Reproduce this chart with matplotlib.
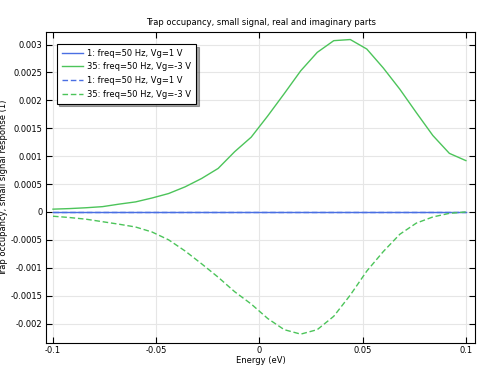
import numpy as np
import matplotlib
matplotlib.use("Agg")
import matplotlib.pyplot as plt
from matplotlib.ticker import FuncFormatter

# energy grid (eV), 26 points
energy = [-0.1, -0.092, -0.084, -0.076, -0.068, -0.06, -0.052, -0.044, -0.036,
          -0.028, -0.02, -0.012, -0.004, 0.004, 0.012, 0.02, 0.028, 0.036,
          0.044, 0.052, 0.06, 0.068, 0.076, 0.084, 0.092, 0.1]

# Vg=1 V: real and imaginary parts stay at zero
real_1 = [0.0] * len(energy)
imag_1 = [0.0] * len(energy)

# Vg=-3 V, values in units of 1e-3
real_35 = [0.05, 0.06, 0.075, 0.095, 0.14, 0.18, 0.25, 0.33, 0.45,
           0.6, 0.78, 1.08, 1.34, 1.72, 2.12, 2.53, 2.86, 3.07,
           3.09, 2.92, 2.58, 2.2, 1.78, 1.37, 1.05, 0.92]
imag_35 = [-0.077, -0.1, -0.13, -0.175, -0.22, -0.27, -0.36, -0.5, -0.7,
           -0.93, -1.17, -1.43, -1.65, -1.91, -2.11, -2.19, -2.11, -1.87,
           -1.49, -1.06, -0.71, -0.4, -0.2, -0.09, -0.025, 0.0]

labels = ["1: freq=50 Hz, Vg=1 V", "35: freq=50 Hz, Vg=-3 V",
          "1: freq=50 Hz, Vg=1 V", "35: freq=50 Hz, Vg=-3 V"]

blue = "#4a6fe3"
green = "#4cc45a"
fs = 6

x = np.array(energy)
fig = plt.figure(figsize=(4.79, 3.66), dpi=100)
ax = fig.add_axes([0.096, 0.063, 0.896, 0.85])

ax.plot(x, np.array(real_1), color=blue, lw=1.0, label=labels[0])
ax.plot(x, np.array(real_35) * 1e-3, color=green, lw=1.0, label=labels[1])
ax.plot(x, np.array(imag_1), color=blue, lw=1.0, ls=(0, (4, 2)), label=labels[2])
ax.plot(x, np.array(imag_35) * 1e-3, color=green, lw=1.0, ls=(0, (4, 2)), label=labels[3])

ax.set_xlim(-0.1034, 0.1045)
ax.set_ylim(-0.002348, 0.003228)
ax.set_xticks([-0.1, -0.05, 0, 0.05, 0.1])
ax.set_yticks(np.arange(-0.002, 0.00301, 0.0005))
fmt = FuncFormatter(lambda v, p: "0" if abs(v) < 1e-12 else "%g" % v)
ax.xaxis.set_major_formatter(fmt)
ax.yaxis.set_major_formatter(fmt)
ax.tick_params(direction="in", top=True, right=True, labelsize=fs, length=4, pad=2.5)
ax.grid(True, color="#e6e6e6", lw=0.8)
ax.set_axisbelow(True)

ax.set_title("Trap occupancy, small signal, real and imaginary parts", fontsize=fs, pad=5)
ax.set_xlabel("Energy (eV)", fontsize=fs, labelpad=0.5)
ax.set_ylabel("Trap occupancy, small signal response (1)", fontsize=fs, labelpad=2)

leg = ax.legend(loc="upper left", bbox_to_anchor=(0.015, 0.975), fontsize=fs,
                fancybox=False, shadow=True, framealpha=1, handlelength=2.6,
                borderpad=0.6, labelspacing=0.55, handletextpad=0.5)
leg.get_frame().set_edgecolor("black")
leg.get_frame().set_linewidth(0.8)

plt.savefig("out.png", dpi=100)
